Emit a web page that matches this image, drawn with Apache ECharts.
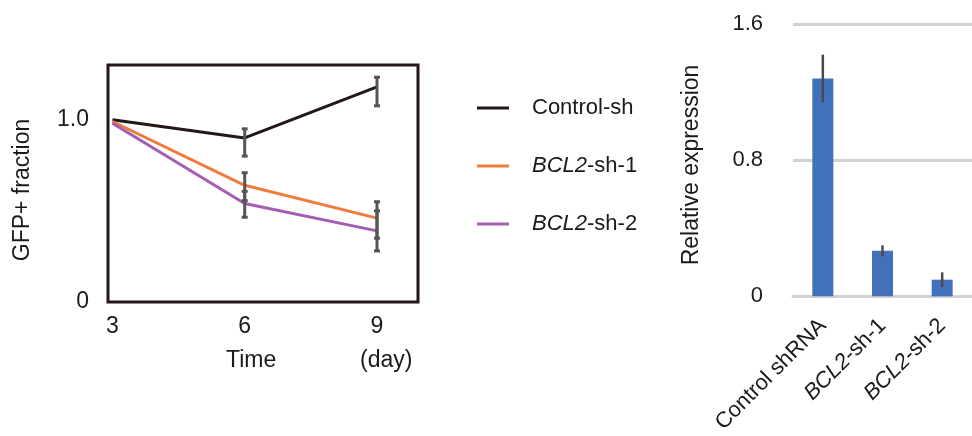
<!DOCTYPE html>
<html>
<head>
<meta charset="utf-8">
<script src="https://cdn.jsdelivr.net/npm/echarts@6/dist/echarts.min.js"></script>
<style>
  html, body { margin: 0; padding: 0; background: #fff; }
  #chart { width: 972px; height: 436px; }
</style>
</head>
<body>
<div id="chart"></div>
<script>
// Time course of GFP+ fraction (left) and BCL2 knockdown efficiency (right)
const days = [3, 6, 9];
const seriesNames = ['Control-sh', 'BCL2-sh-1', 'BCL2-sh-2'];
const controlSh = [1.0, 0.90, 1.18];
const bcl2Sh1 = [0.99, 0.64, 0.46];
const bcl2Sh2 = [0.98, 0.54, 0.39];
// error bar ranges [day, low, high]
const controlShErr = [[6, 0.80, 0.95], [9, 1.076, 1.233]];
const bcl2Sh1Err = [[6, 0.556, 0.709], [9, 0.35, 0.55]];
const bcl2Sh2Err = [[6, 0.465, 0.607], [9, 0.28, 0.50]];
const leftYTicks = [0, 1.0];

const barCategories = ['Control shRNA', 'BCL2-sh-1', 'BCL2-sh-2'];
const relExpression = [1.28, 0.268, 0.098];
const relExpressionLow = [1.14, 0.235, 0.055];
const relExpressionHigh = [1.42, 0.30, 0.141];
const rightYTicks = [0, 0.8, 1.6];

const FONT = '"Liberation Sans", Arial, Helvetica, sans-serif';
const TEXT = '#1a1a1a';
const lineColors = ['#231816', '#ef7b3c', '#a45db0'];

function toPairs(vals) { return days.map((d, i) => [d, vals[i]]); }

function tickText(v) { return v === 0 ? '0' : v.toFixed(1); }

// error bars with short caps, drawn in data coordinates
function errRender(capHalf, color, width) {
  return function (params, api) {
    const x = api.value(0);
    const lo = api.coord([x, api.value(1)]);
    const hi = api.coord([x, api.value(2)]);
    const st = { stroke: color, lineWidth: width };
    const kids = [{ type: 'line', shape: { x1: lo[0], y1: lo[1], x2: hi[0], y2: hi[1] }, style: st }];
    if (capHalf > 0) {
      kids.push({ type: 'line', shape: { x1: lo[0] - capHalf, y1: lo[1], x2: lo[0] + capHalf, y2: lo[1] }, style: st });
      kids.push({ type: 'line', shape: { x1: hi[0] - capHalf, y1: hi[1], x2: hi[0] + capHalf, y2: hi[1] }, style: st });
    }
    return { type: 'group', children: kids };
  };
}

function italicGene(name) {
  return name.startsWith('BCL2') ? '{i|BCL2}' + name.slice(4) : name;
}

const chart = echarts.init(document.getElementById('chart'), null, { renderer: 'canvas' });

const lineData = [controlSh, bcl2Sh1, bcl2Sh2];
const errData = [controlShErr, bcl2Sh1Err, bcl2Sh2Err];

const series = [];
lineData.forEach((vals, k) => {
  series.push({
    name: seriesNames[k], type: 'line', xAxisIndex: 0, yAxisIndex: 0,
    data: toPairs(vals), symbol: 'none', z: 3,
    lineStyle: { color: lineColors[k], width: 3 }, itemStyle: { color: lineColors[k] }
  });
});
errData.forEach((e) => {
  series.push({
    type: 'custom', xAxisIndex: 0, yAxisIndex: 0, data: e, z: 4,
    renderItem: errRender(3, '#555555', 3)
  });
});
series.push({
  type: 'bar', xAxisIndex: 1, yAxisIndex: 1, data: relExpression,
  barWidth: 21, itemStyle: { color: '#4171bb' }, z: 2
});
series.push({
  type: 'custom', xAxisIndex: 1, yAxisIndex: 1, z: 5,
  data: barCategories.map((c, i) => [i, relExpressionLow[i], relExpressionHigh[i]]),
  renderItem: errRender(0, '#4a4a4a', 2.5)
});

chart.setOption({
  animation: false,
  textStyle: { fontFamily: FONT, color: TEXT },
  grid: [
    { left: 108, top: 65, width: 310, height: 237, show: true, borderColor: '#231816', borderWidth: 3, backgroundColor: 'transparent' },
    { left: 793, top: 24, right: -10, bottom: 139 }
  ],
  xAxis: [
    {
      gridIndex: 0, type: 'value', min: 2.9, max: 9.93,
      axisLine: { show: false }, axisTick: { show: false, customValues: days }, splitLine: { show: false },
      axisLabel: {
        customValues: days,
        fontSize: 23, color: TEXT, margin: 13, fontFamily: FONT,
        formatter: v => String(v)
      }
    },
    {
      gridIndex: 1, type: 'category', data: barCategories,
      axisLine: { show: true, lineStyle: { color: '#d2d2d2', width: 3 } },
      axisTick: { show: false },
      axisLabel: {
        rotate: 45, margin: 26, fontSize: 22, color: TEXT, fontFamily: FONT,
        formatter: v => italicGene(v),
        rich: { i: { fontStyle: 'italic', fontSize: 22, color: TEXT, fontFamily: FONT } }
      }
    }
  ],
  yAxis: [
    {
      gridIndex: 0, type: 'value', min: 0, max: 1.3,
      axisLine: { show: false }, axisTick: { show: false, customValues: leftYTicks }, splitLine: { show: false },
      axisLabel: {
        customValues: leftYTicks,
        fontSize: 23, color: TEXT, margin: 19, fontFamily: FONT,
        formatter: v => tickText(v)
      }
    },
    {
      gridIndex: 1, type: 'value', min: 0, max: 1.6, interval: 0.8,
      axisLine: { show: false }, axisTick: { show: false },
      splitLine: { show: true, lineStyle: { color: '#d2d2d2', width: 3 } },
      axisLabel: {
        fontSize: 22, color: TEXT, margin: 30, fontFamily: FONT,
        formatter: v => tickText(v)
      }
    }
  ],
  legend: {
    data: seriesNames, orient: 'vertical', left: 472, top: 92,
    icon: 'rect', itemWidth: 32, itemHeight: 3, itemGap: 36,
    formatter: n => italicGene(n),
    textStyle: {
      fontSize: 22, color: TEXT, fontFamily: FONT, padding: [0, 0, 0, 18],
      rich: { i: { fontStyle: 'italic', fontSize: 22, color: TEXT, fontFamily: FONT } }
    }
  },
  graphic: [
    { type: 'text', left: 226, top: 349, style: { text: 'Time', font: '23px ' + FONT, fill: TEXT } },
    { type: 'text', left: 360, top: 349, style: { text: '(day)', font: '23px ' + FONT, fill: TEXT } },
    { type: 'text', x: 23, y: 190, rotation: Math.PI / 2, style: { text: 'GFP+ fraction', font: '23px ' + FONT, fill: TEXT, align: 'center', verticalAlign: 'middle' } },
    { type: 'text', x: 692, y: 165, rotation: Math.PI / 2, style: { text: 'Relative expression', font: '23px ' + FONT, fill: TEXT, align: 'center', verticalAlign: 'middle' } }
  ],
  series: series
});
</script>
</body>
</html>
